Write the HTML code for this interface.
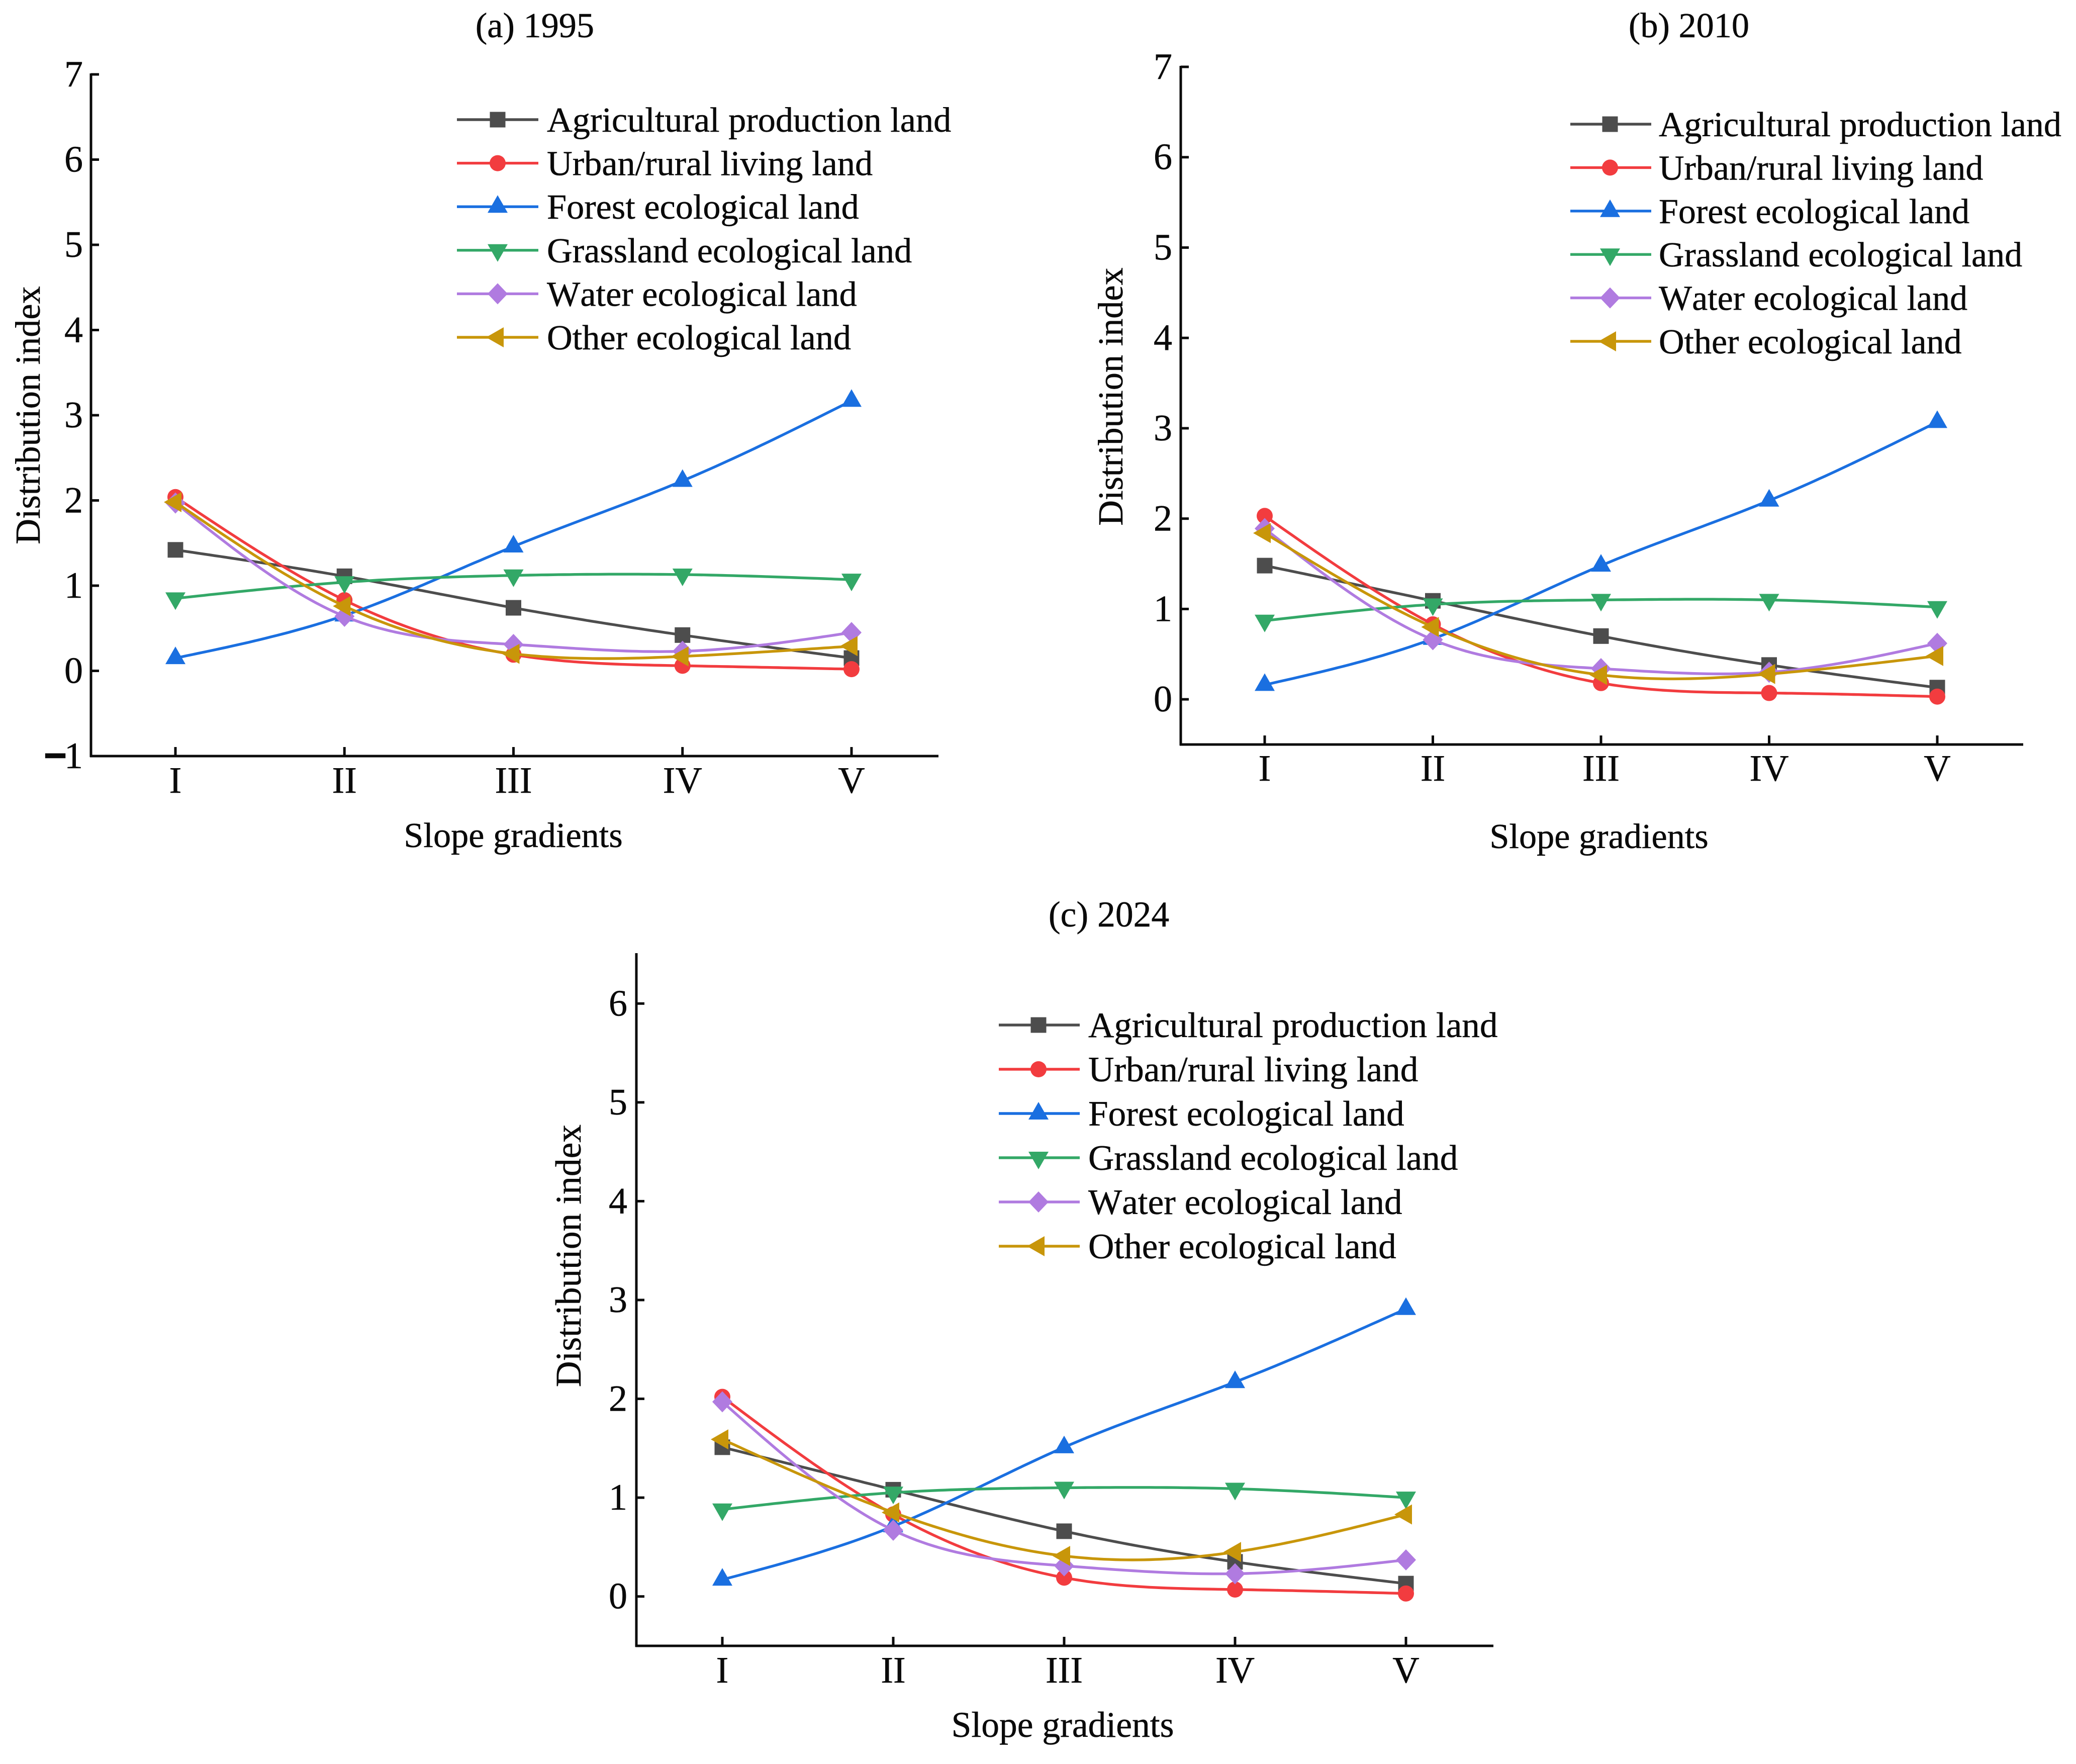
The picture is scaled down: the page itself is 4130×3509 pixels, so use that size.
<!DOCTYPE html>
<html lang="en">
<head>
<meta charset="utf-8">
<title>Distribution index by slope gradient</title>
<style>
html,body{margin:0;padding:0;background:#fff;}
svg{display:block;}
text{font-family:"Liberation Serif",serif;fill:#0a0a0a;font-kerning:none;stroke:#0a0a0a;stroke-width:0.5px;}
</style>
</head>
<body>
<svg id="figure" xmlns="http://www.w3.org/2000/svg" width="4130" height="3509" viewBox="0 0 4130 3509"></svg>
<script>
const categories = ["I", "II", "III", "IV", "V"];
const seriesNames = ["Agricultural production land", "Urban/rural living land", "Forest ecological land", "Grassland ecological land", "Water ecological land", "Other ecological land"];

const agri1995 = [1.42, 1.11, 0.74, 0.42, 0.15];
const urban1995 = [2.04, 0.83, 0.19, 0.06, 0.02];
const forest1995 = [0.15, 0.65, 1.46, 2.23, 3.17];
const grass1995 = [0.85, 1.04, 1.12, 1.13, 1.07];
const water1995 = [1.97, 0.64, 0.31, 0.23, 0.45];
const other1995 = [1.98, 0.76, 0.20, 0.17, 0.29];

const agri2010 = [1.48, 1.09, 0.70, 0.38, 0.13];
const urban2010 = [2.03, 0.83, 0.18, 0.07, 0.03];
const forest2010 = [0.16, 0.67, 1.48, 2.20, 3.07];
const grass2010 = [0.87, 1.05, 1.10, 1.10, 1.02];
const water2010 = [1.89, 0.66, 0.34, 0.30, 0.62];
const other2010 = [1.84, 0.80, 0.27, 0.28, 0.48];

const agri2024 = [1.51, 1.08, 0.66, 0.35, 0.13];
const urban2024 = [2.02, 0.83, 0.19, 0.07, 0.03];
const forest2024 = [0.17, 0.71, 1.51, 2.17, 2.91];
const grass2024 = [0.88, 1.05, 1.10, 1.09, 1.00];
const water2024 = [1.97, 0.67, 0.31, 0.23, 0.37];
const other2024 = [1.59, 0.85, 0.41, 0.45, 0.83];

const ticksA = [-1, 0, 1, 2, 3, 4, 5, 6, 7];
const ticksB = [0, 1, 2, 3, 4, 5, 6, 7];
const ticksC = [0, 1, 2, 3, 4, 5, 6];

const colors = ["#4d4d4d", "#f23c3f", "#1a6fe0", "#33a867", "#b07be0", "#c8960a"];
const markerKinds = ["square", "circle", "up", "down", "diamond", "left"];

const panels = [
  {key:"a", title:"(a) 1995", series:[agri1995,urban1995,forest1995,grass1995,water1995,other1995], ticks:ticksA,
   yMin:-1, yMax:7, x0:181, x1:1867, yB:1504, yT:148, c0:349, c1:1694, lblX:165, catBase:1577,
   titleX:1064, titleY:74, xtX:1021, xtY:1685, ytX:79, ytY:826, labelFont:70.3,
   legLine0:909, legLine1:1071, legM:990, legText:1088, legY0:238, legStep:86.6, legFont:70.3},
  {key:"b", title:"(b) 2010", series:[agri2010,urban2010,forest2010,grass2010,water2010,other2010], ticks:ticksB,
   yMin:-0.5, yMax:7, x0:2349, x1:4025, yB:1481, yT:133, c0:2516, c1:3854, lblX:2332, catBase:1553,
   titleX:3360, titleY:74, xtX:3181, xtY:1687, ytX:2233, ytY:789, labelFont:70.3,
   legLine0:3124, legLine1:3285, legM:3203, legText:3300, legY0:247, legStep:86.4, legFont:70},
  {key:"c", title:"(c) 2024", series:[agri2024,urban2024,forest2024,grass2024,water2024,other2024], ticks:ticksC,
   yMin:-0.5, yMax:6.5, x0:1266, x1:2971, yB:3274, yT:1898, c0:1437, c1:2797, lblX:1248, catBase:3347,
   titleX:2206, titleY:1843, xtX:2114, xtY:3455, ytX:1155, ytY:2498, labelFont:71.5,
   legLine0:1987, legLine1:2148, legM:2066, legText:2165, legY0:2039, legStep:88, legFont:71.2}
];

const NS = "http://www.w3.org/2000/svg";
const root = document.getElementById("figure");

function mk(tag, attrs, parent) {
  const el = document.createElementNS(NS, tag);
  for (const k in attrs) el.setAttribute(k, attrs[k]);
  parent.appendChild(el);
  return el;
}

function naturalSpline(xs, ys) {
  const n = xs.length, h = xs[1] - xs[0];
  const a = new Array(n).fill(0), b = new Array(n).fill(0), m = new Array(n).fill(0);
  for (let i = 1; i < n - 1; i++) {
    const r = 6 * (ys[i + 1] - 2 * ys[i] + ys[i - 1]) / (h * h);
    const d = 4 - (i > 1 ? a[i - 1] : 0);
    a[i] = 1 / d;
    b[i] = (r - (i > 1 ? b[i - 1] : 0)) / d;
  }
  for (let i = n - 2; i >= 1; i--) m[i] = b[i] - a[i] * m[i + 1];
  let path = "M" + xs[0].toFixed(1) + " " + ys[0].toFixed(1);
  for (let i = 0; i < n - 1; i++) {
    for (let s = 1; s <= 30; s++) {
      const t = s / 30, u = 1 - t;
      const y = u * ys[i] + t * ys[i + 1] + ((u * u * u - u) * m[i] + (t * t * t - t) * m[i + 1]) * h * h / 6;
      path += "L" + (xs[i] + t * h).toFixed(1) + " " + y.toFixed(1);
    }
  }
  return path;
}

function drawMarker(kind, cx, cy, color, parent) {
  if (kind === "square") return mk("rect", {x:cx - 15.5, y:cy - 15.5, width:31, height:31, fill:color}, parent);
  if (kind === "circle") return mk("circle", {cx:cx, cy:cy, r:16, fill:color}, parent);
  let pts;
  if (kind === "up") pts = [[cx, cy - 23], [cx + 20, cy + 12], [cx - 20, cy + 12]];
  if (kind === "down") pts = [[cx, cy + 23], [cx + 20, cy - 12], [cx - 20, cy - 12]];
  if (kind === "left") pts = [[cx - 23, cy], [cx + 12, cy - 20], [cx + 12, cy + 20]];
  if (kind === "diamond") pts = [[cx, cy - 21], [cx + 20, cy], [cx, cy + 21], [cx - 20, cy]];
  return mk("polygon", {points:pts.map(p => p[0].toFixed(1) + "," + p[1].toFixed(1)).join(" "), fill:color}, parent);
}

panels.forEach(function (p) {
  const sx = i => p.c0 + (p.c1 - p.c0) * i / (categories.length - 1);
  const sy = v => p.yB - (v - p.yMin) * (p.yB - p.yT) / (p.yMax - p.yMin);

  const g = mk("g", {}, root);
  
  

  const title = mk("text", {x:p.titleX, y:p.titleY, "text-anchor":"middle", "font-size":p.labelFont}, g);
  title.textContent = p.title;
  
  

  const yAxis = mk("line", {x1:p.x0, y1:p.yT - 2, x2:p.x0, y2:p.yB + 2, stroke:"#0a0a0a", "stroke-width":5}, g);
  
  

  const xAxis = mk("line", {x1:p.x0 - 2, y1:p.yB, x2:p.x1, y2:p.yB, stroke:"#0a0a0a", "stroke-width":5}, g);
  
  

  p.ticks.forEach(function (t) {
    const y = sy(t);
    if (t !== p.yMin) {
      const tick = mk("line", {x1:p.x0, y1:y, x2:p.x0 + 16, y2:y, stroke:"#0a0a0a", "stroke-width":5}, g);
      
      
    }
    const lab = mk("text", {x:p.lblX, y:y + 24, "text-anchor":"end", "font-size":74}, g);
    if (t < 0) {
      const minus = mk("tspan", {style:"stroke-width:6px"}, lab);
      minus.textContent = "\u2212";
      const digit = mk("tspan", {dx:-3}, lab);
      digit.textContent = String(Math.abs(t));
    } else {
      lab.textContent = String(t);
    }
    
    
  });

  categories.forEach(function (c, i) {
    const tick = mk("line", {x1:sx(i), y1:p.yB, x2:sx(i), y2:p.yB - 18, stroke:"#0a0a0a", "stroke-width":5}, g);
    
    
    const lab = mk("text", {x:sx(i), y:p.catBase, "text-anchor":"middle", "font-size":74}, g);
    lab.textContent = c;
    
    
  });

  const xTitle = mk("text", {x:p.xtX, y:p.xtY, "text-anchor":"middle", "font-size":p.labelFont}, g);
  xTitle.textContent = "Slope gradients";
  
  

  const yTitle = mk("text", {x:p.ytX, y:p.ytY, "text-anchor":"middle", "font-size":p.labelFont, transform:"rotate(-90 " + p.ytX + " " + p.ytY + ")"}, g);
  yTitle.textContent = "Distribution index";
  
  

  p.series.forEach(function (vals, s) {
    const xs = vals.map((v, i) => sx(i));
    const ys = vals.map(v => sy(v));
    const sg = mk("g", {}, g);
    
    
    const line = mk("path", {d:naturalSpline(xs, ys), fill:"none", stroke:colors[s], "stroke-width":5.4, "stroke-linejoin":"round"}, sg);
    
    
    vals.forEach(function (v, i) {
      const m = drawMarker(markerKinds[s], xs[i], ys[i], colors[s], sg);
      
      
    });
  });

  const legend = mk("g", {}, g);
  
  
  seriesNames.forEach(function (name, s) {
    const y = p.legY0 + s * p.legStep;
    const entry = mk("g", {}, legend);
    
    
    const ln = mk("line", {x1:p.legLine0, y1:y, x2:p.legLine1, y2:y, stroke:colors[s], "stroke-width":5.4}, entry);
    
    
    const mark = drawMarker(markerKinds[s], p.legM, y, colors[s], entry);
    
    
    const txt = mk("text", {x:p.legText, y:y + 24, "font-size":p.legFont}, entry);
    txt.textContent = name;
    
    
  });
});
</script>
</body>
</html>
